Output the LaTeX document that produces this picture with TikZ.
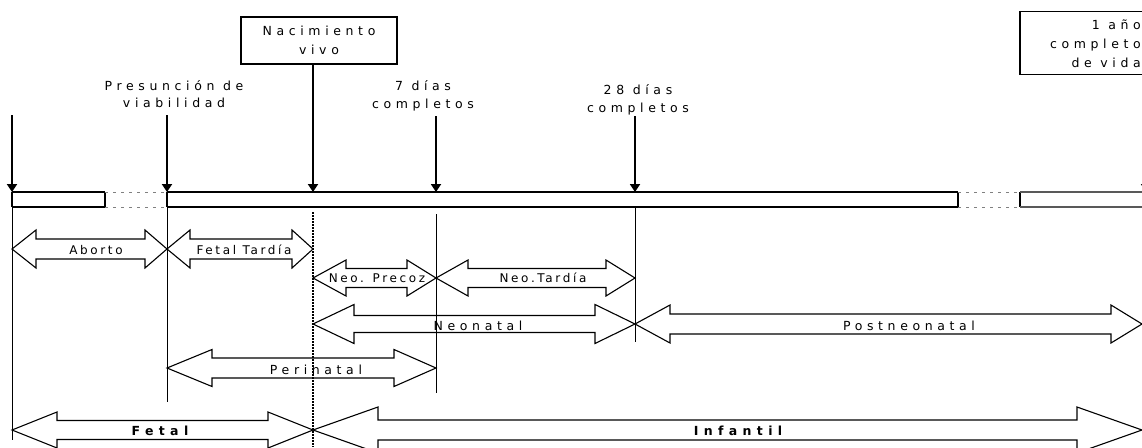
\documentclass[tikz,border=0pt]{standalone}
\usepackage{fontspec}
\setmainfont{DejaVu Sans}
\newfontfamily\wide[LetterSpace=37]{DejaVu Sans}
\newfontfamily\snug[LetterSpace=22]{DejaVu Sans}
\newfontfamily\widebold[LetterSpace=43]{DejaVu Sans}
\usetikzlibrary{arrows.meta}

% double-headed outline arrow: x1, x2, y centre, body half-height,
% head half-height, left head length, right head length
\newcommand\twoway[7]{%
  \draw[band] (#1,#3) -- ({#1+#6},{#3-#5}) -- ({#1+#6},{#3-#4})
    -- ({#2-#7},{#3-#4}) -- ({#2-#7},{#3-#5}) -- (#2,#3)
    -- ({#2-#7},{#3+#5}) -- ({#2-#7},{#3+#4}) -- ({#1+#6},{#3+#4})
    -- ({#1+#6},{#3+#5}) -- cycle;}

\tikzset{
  band/.style={draw=black, line width=1.1pt, line join=miter},
  pointer/.style={line width=1.8pt, -{Triangle[width=10pt,length=8pt]}},
  toplbl/.style={font=\wide\fontsize{12.5}{17.5}\selectfont, align=center, inner sep=0pt},
  inlbl/.style={font=\snug\fontsize{12}{14}\selectfont, inner sep=0pt},
  widelbl/.style={font=\wide\fontsize{12.5}{14}\selectfont, inner sep=0pt},
  boldlbl/.style={font=\widebold\bfseries\fontsize{12.5}{14}\selectfont, inner sep=0pt},
  framebox/.style={draw, line width=1.6pt, align=center, inner sep=0pt,
    font=\wide\fontsize{12.5}{18.5}\selectfont},
  boxtext/.style={align=right, inner sep=0pt, font=\wide\fontsize{12.5}{19}\selectfont},
  guide/.style={line width=1pt},
  thickdots/.style={line width=2.2pt, dash pattern=on 1.6pt off 1.4pt},
  gap/.style={line width=0.7pt, gray, dash pattern=on 3pt off 5pt},
}

\begin{document}
\begin{tikzpicture}[x=1pt, y=-1pt]
\useasboundingbox (0,0) rectangle (1142,447);

% ---- time bar ----
\coordinate (t0) at (12,192);
\coordinate (t1) at (167,192);
\coordinate (t2) at (313,192);
\coordinate (t3) at (436,192);
\coordinate (t4) at (635,192);
\coordinate (t5) at (1146,192);

\draw[line width=1.8pt] (12,192) -- (105,192);
\draw[line width=1.4pt] (12,207) -- (105,207);
\draw[line width=1.4pt] (12,192) -- (12,207);
\draw[line width=1.4pt] (105,192) -- (105,207);
\draw[gap] (105,192) -- (167,192) (105,207) -- (167,207);
\draw[line width=1.8pt] (167,192) -- (958,192);
\draw[line width=1.4pt] (167,207) -- (958,207);
\draw[line width=1.4pt] (167,192) -- (167,207);
\draw[line width=1.4pt] (958,192) -- (958,207);
\draw[gap] (958,192) -- (1020,192) (958,207) -- (1020,207);
\draw[line width=1.4pt] (1020,192) -- (1020,207);
\draw[line width=1.6pt, black!65] (1020,192) -- (1142,192);
\draw[line width=1.4pt, black!65] (1020,207) -- (1142,207);

% ---- boxes and labels above the bar ----
\node[framebox, minimum width=156pt, minimum height=47pt] (nac) at (319,40.5)
  {Nacimiento\\vivo};
\node[draw, line width=1.6pt, minimum width=160pt, minimum height=63pt] (ano) at (1100,43) {};
\node[boxtext, anchor=east] (anotxt) at (1141,44) {1 año\\completo\\de vida};
\node[toplbl] (presun) at (174,94) {Presunción de\\viabilidad};
\node[toplbl] (siete) at (423,96) {7 días\\completos};
\node[toplbl] (veintiocho) at (638,100) {28 días\\completos};

\coordinate (s0) at (12,115);
\coordinate (s1) at (167,115);
\coordinate (s3) at (436,116);
\coordinate (s4) at (635,116);
\coordinate (s5) at (1146,75);

\draw[pointer] (s0) -- (t0);
\draw[pointer] (s1) -- (t1);
\draw[pointer] (nac.south -| t2) -- (t2);
\draw[pointer] (s3) -- (t3);
\draw[pointer] (s4) -- (t4);
\draw[pointer] (s5) -- (t5);

% ---- guide lines under the bar ----
\coordinate (g0) at (12,440);
\coordinate (g1) at (167,402);
\coordinate (g2) at (313,447);
\coordinate (g3) at (436,393);
\coordinate (g4) at (635,342);
\draw[guide] (12,207) -- (g0);
\draw[guide] (167,207) -- (g1);
\draw[thickdots] (313,212) -- (g2);
\draw[guide] (436,214) -- (g3);
\draw[guide] (635,207) -- (g4);

% ---- periods ----
\twoway{12}{167}{249}{10}{19}{24}{22}
\twoway{167}{313}{249}{10}{19}{23}{21}
\twoway{313}{436}{278}{9.5}{18}{33}{29}
\twoway{436}{635}{278}{9.5}{18}{32}{29}
\twoway{313}{635}{324}{8.5}{19.5}{41}{40}
\twoway{635}{1142}{324}{10}{19}{35}{31}
\twoway{167}{436}{368}{10}{18.5}{45}{42}
\twoway{12}{313}{430}{9.5}{18}{45}{45}
\twoway{313}{1142}{430}{10}{23}{65}{65}

\node[inlbl] (aborto) at (96,250) {Aborto};
\node[inlbl] (ftardia) at (244,250) {Fetal Tardía};
\node[inlbl] (nprecoz) at (377,278) {Neo. Precoz};
\node[inlbl] (ntardia) at (543,278) {Neo.Tardía};
\node[widelbl] (neonatal) at (478,326) {Neonatal};
\node[widelbl] (postneo) at (909,326) {Postneonatal};
\node[widelbl] (perinatal) at (316,370) {Perinatal};
\node[boldlbl] (fetal) at (160,431) {Fetal};
\node[boldlbl] (infantil) at (738,431) {Infantil};
\end{tikzpicture}
\end{document}
